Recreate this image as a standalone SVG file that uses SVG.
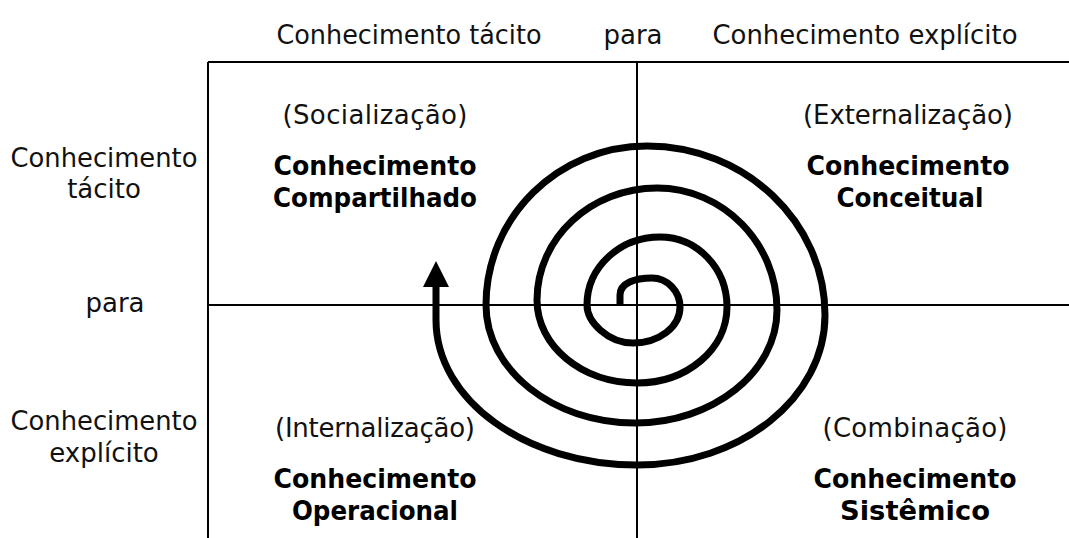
<svg xmlns="http://www.w3.org/2000/svg" width="1069" height="538" viewBox="0 0 1069 538">
<style>
.r{font-family:"DejaVu Sans","Liberation Sans",sans-serif;font-size:26px;fill:#111;text-anchor:middle}
.b{font-family:"DejaVu Sans","Liberation Sans",sans-serif;font-size:26px;font-weight:bold;fill:#000;text-anchor:middle}
.ln{stroke:#000;stroke-width:2;fill:none}
.sp{stroke:#000;stroke-width:7;fill:none;stroke-linecap:butt;stroke-linejoin:round}
</style>
<rect width="1069" height="538" fill="#fff"/>
<g id="grid">
<path class="ln" d="M208 62H1069M208 62V538M637 62V538M208 305H1069"/>
</g>
<g id="header">
<text class="r" x="409" y="44" textLength="265" lengthAdjust="spacingAndGlyphs">Conhecimento tácito</text>
<text class="r" x="633" y="44">para</text>
<text class="r" x="865" y="44" textLength="305" lengthAdjust="spacingAndGlyphs">Conhecimento explícito</text>
</g>
<g id="side">
<text class="r" x="104" y="167" textLength="187" lengthAdjust="spacingAndGlyphs">Conhecimento</text>
<text class="r" x="104" y="198">tácito</text>
<text class="r" x="115" y="312">para</text>
<text class="r" x="104" y="430" textLength="187" lengthAdjust="spacingAndGlyphs">Conhecimento</text>
<text class="r" x="104" y="462">explícito</text>
</g>
<g id="socializacao">
<text class="r" x="375" y="124" textLength="185" lengthAdjust="spacing">(Socialização)</text>
<text class="b" x="375" y="175" textLength="203" lengthAdjust="spacingAndGlyphs">Conhecimento</text>
<text class="b" x="375" y="207" textLength="204" lengthAdjust="spacingAndGlyphs">Compartilhado</text>
</g>
<g id="externalizacao">
<text class="r" x="908" y="124" textLength="210" lengthAdjust="spacing">(Externalização)</text>
<text class="b" x="908" y="175" textLength="203" lengthAdjust="spacingAndGlyphs">Conhecimento</text>
<text class="b" x="910" y="207" textLength="147" lengthAdjust="spacingAndGlyphs">Conceitual</text>
</g>
<g id="internalizacao">
<text class="r" x="375" y="437" textLength="200" lengthAdjust="spacing">(Internalização)</text>
<text class="b" x="375" y="488" textLength="203" lengthAdjust="spacingAndGlyphs">Conhecimento</text>
<text class="b" x="375" y="520" textLength="166" lengthAdjust="spacingAndGlyphs">Operacional</text>
</g>
<g id="combinacao">
<text class="r" x="915" y="437" textLength="185" lengthAdjust="spacing">(Combinação)</text>
<text class="b" x="915" y="488" textLength="203" lengthAdjust="spacingAndGlyphs">Conhecimento</text>
<text class="b" x="915" y="520" textLength="150" lengthAdjust="spacingAndGlyphs">Sistêmico</text>
</g>
<g id="connectors">
<path class="sp" d="M620 306 L620 295 C620 283 635 278 652 278 C667 278 680 291 680 307 C680 327 659 343 633 343 C608 343 587 322 587 305 C587 267 620 237 660 237 C697 237 727 268 727 307 C727 349 687 383 637 383 C582 383 537 346 537 300 C537 238 591 188 657 188 C723 188 777 243 777 310 C777 372 713 423 635 423 C553 423 486 370 486 305 C486 217 558 146 647 146 C745 146 825 222 825 315 C825 398 741 465 637 465 C526 465 436 400 436 320 L436 284"/>
<polygon points="436,261 449,287 423,287" fill="#000"/>
</g>
</svg>
